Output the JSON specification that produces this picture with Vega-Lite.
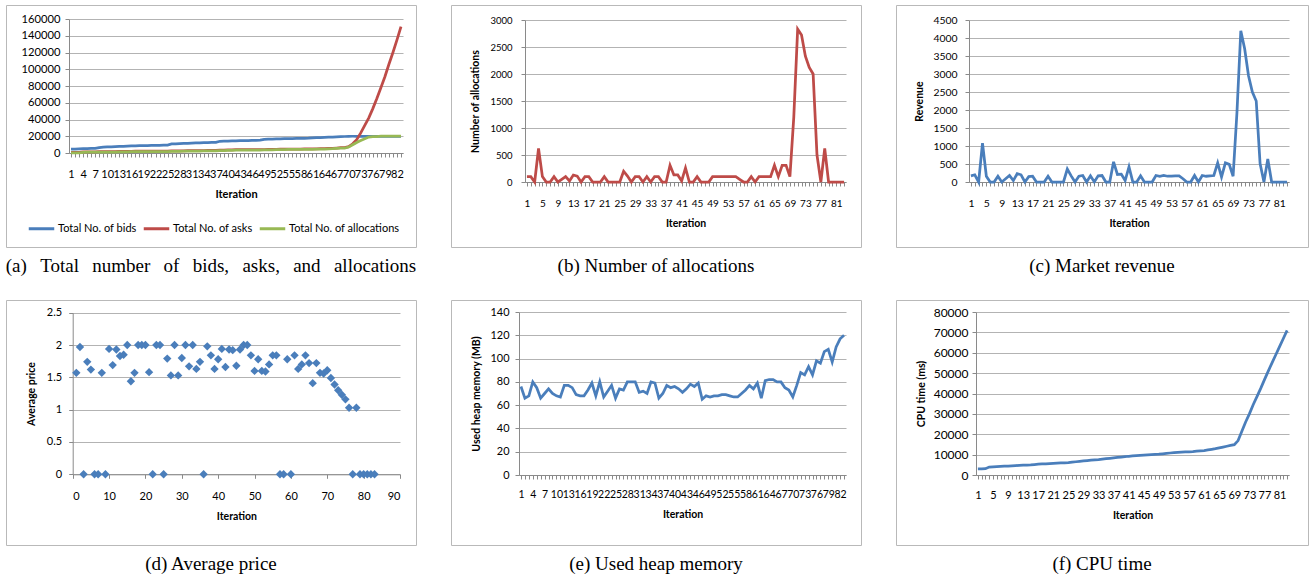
{
  "$schema": "https://vega.github.io/schema/vega-lite/v6.json",
  "autosize": {"type": "pad"},
  "padding": {"left": 5, "top": 4, "right": 2, "bottom": 2},
  "background": "white",
  "columns": 3,
  "spacing": {"row": 53, "column": 35},
  "bounds": "flush",
  "datasets": {
    "main": [
      {"i":1,"alloc":100,"rev":170,"price":1.57,"heap":76,"cpu":2950,"bids":4500,"asks":600,"acum":100},
      {"i":2,"alloc":100,"rev":200,"price":1.97,"heap":66,"cpu":3000,"bids":4700,"asks":700,"acum":200},
      {"i":3,"alloc":0,"rev":0,"price":0,"heap":68,"cpu":3100,"bids":4900,"asks":700,"acum":200},
      {"i":4,"alloc":620,"rev":1080,"price":1.74,"heap":80,"cpu":3900,"bids":5200,"asks":1320,"acum":820},
      {"i":5,"alloc":100,"rev":160,"price":1.62,"heap":75,"cpu":4000,"bids":5300,"asks":1420,"acum":920},
      {"i":6,"alloc":0,"rev":0,"price":0,"heap":66,"cpu":4100,"bids":5400,"asks":1420,"acum":920},
      {"i":7,"alloc":0,"rev":0,"price":0,"heap":70,"cpu":4200,"bids":5600,"asks":1420,"acum":920},
      {"i":8,"alloc":100,"rev":160,"price":1.57,"heap":74,"cpu":4300,"bids":6500,"asks":1520,"acum":1020},
      {"i":9,"alloc":0,"rev":0,"price":0,"heap":70,"cpu":4400,"bids":7000,"asks":1520,"acum":1020},
      {"i":10,"alloc":50,"rev":90,"price":1.94,"heap":68,"cpu":4500,"bids":7200,"asks":1570,"acum":1070},
      {"i":11,"alloc":100,"rev":180,"price":1.69,"heap":67,"cpu":4600,"bids":7400,"asks":1670,"acum":1170},
      {"i":12,"alloc":20,"rev":40,"price":1.93,"heap":77,"cpu":4700,"bids":7600,"asks":1690,"acum":1190},
      {"i":13,"alloc":130,"rev":230,"price":1.83,"heap":77,"cpu":4800,"bids":7800,"asks":1820,"acum":1320},
      {"i":14,"alloc":110,"rev":200,"price":1.85,"heap":75,"cpu":4900,"bids":8000,"asks":1930,"acum":1430},
      {"i":15,"alloc":0,"rev":0,"price":2.0,"heap":69,"cpu":5000,"bids":8200,"asks":1930,"acum":1430},
      {"i":16,"alloc":100,"rev":150,"price":1.44,"heap":68,"cpu":5150,"bids":8400,"asks":2030,"acum":1530},
      {"i":17,"alloc":100,"rev":160,"price":1.57,"heap":68,"cpu":5300,"bids":8600,"asks":2130,"acum":1630},
      {"i":18,"alloc":0,"rev":0,"price":2.0,"heap":73,"cpu":5400,"bids":8700,"asks":2130,"acum":1630},
      {"i":19,"alloc":0,"rev":0,"price":2.0,"heap":79,"cpu":5500,"bids":8800,"asks":2130,"acum":1630},
      {"i":20,"alloc":0,"rev":0,"price":2.0,"heap":68,"cpu":5600,"bids":8900,"asks":2130,"acum":1630},
      {"i":21,"alloc":100,"rev":160,"price":1.58,"heap":80,"cpu":5700,"bids":9000,"asks":2230,"acum":1730},
      {"i":22,"alloc":0,"rev":0,"price":0,"heap":67,"cpu":5800,"bids":9100,"asks":2230,"acum":1730},
      {"i":23,"alloc":0,"rev":0,"price":2.0,"heap":72,"cpu":5900,"bids":9200,"asks":2230,"acum":1730},
      {"i":24,"alloc":0,"rev":0,"price":2.0,"heap":77,"cpu":6000,"bids":9300,"asks":2230,"acum":1730},
      {"i":25,"alloc":0,"rev":0,"price":0,"heap":66,"cpu":6050,"bids":9500,"asks":2230,"acum":1730},
      {"i":26,"alloc":200,"rev":360,"price":1.79,"heap":74,"cpu":6300,"bids":10800,"asks":2430,"acum":1930},
      {"i":27,"alloc":110,"rev":170,"price":1.53,"heap":73,"cpu":6500,"bids":11000,"asks":2540,"acum":2040},
      {"i":28,"alloc":0,"rev":0,"price":2.0,"heap":80,"cpu":6700,"bids":11200,"asks":2540,"acum":2040},
      {"i":29,"alloc":100,"rev":160,"price":1.53,"heap":80,"cpu":6900,"bids":11400,"asks":2640,"acum":2140},
      {"i":30,"alloc":100,"rev":180,"price":1.8,"heap":80,"cpu":7100,"bids":11600,"asks":2740,"acum":2240},
      {"i":31,"alloc":0,"rev":0,"price":2.0,"heap":71,"cpu":7300,"bids":11800,"asks":2740,"acum":2240},
      {"i":32,"alloc":100,"rev":170,"price":1.67,"heap":72,"cpu":7450,"bids":12000,"asks":2840,"acum":2340},
      {"i":33,"alloc":0,"rev":0,"price":2.0,"heap":70,"cpu":7600,"bids":12200,"asks":2840,"acum":2340},
      {"i":34,"alloc":100,"rev":170,"price":1.63,"heap":80,"cpu":7800,"bids":12400,"asks":2940,"acum":2440},
      {"i":35,"alloc":100,"rev":180,"price":1.74,"heap":79,"cpu":8000,"bids":12500,"asks":3040,"acum":2540},
      {"i":36,"alloc":0,"rev":0,"price":0,"heap":66,"cpu":8200,"bids":12600,"asks":3040,"acum":2540},
      {"i":37,"alloc":0,"rev":0,"price":1.98,"heap":70,"cpu":8400,"bids":12700,"asks":3040,"acum":2540},
      {"i":38,"alloc":310,"rev":560,"price":1.84,"heap":77,"cpu":8600,"bids":14000,"asks":3350,"acum":2850},
      {"i":39,"alloc":130,"rev":210,"price":1.63,"heap":75,"cpu":8800,"bids":14200,"asks":3480,"acum":2980},
      {"i":40,"alloc":130,"rev":220,"price":1.78,"heap":76,"cpu":9000,"bids":14300,"asks":3610,"acum":3110},
      {"i":41,"alloc":20,"rev":40,"price":1.94,"heap":74,"cpu":9200,"bids":14400,"asks":3630,"acum":3130},
      {"i":42,"alloc":260,"rev":420,"price":1.66,"heap":71,"cpu":9350,"bids":14600,"asks":3890,"acum":3390},
      {"i":43,"alloc":0,"rev":0,"price":1.93,"heap":74,"cpu":9500,"bids":14700,"asks":3890,"acum":3390},
      {"i":44,"alloc":0,"rev":0,"price":1.92,"heap":78,"cpu":9650,"bids":14800,"asks":3890,"acum":3390},
      {"i":45,"alloc":100,"rev":170,"price":1.68,"heap":76,"cpu":9800,"bids":14900,"asks":3990,"acum":3490},
      {"i":46,"alloc":0,"rev":0,"price":1.93,"heap":79,"cpu":9900,"bids":15000,"asks":3990,"acum":3490},
      {"i":47,"alloc":0,"rev":0,"price":2.0,"heap":65,"cpu":10000,"bids":15200,"asks":3990,"acum":3490},
      {"i":48,"alloc":0,"rev":0,"price":2.0,"heap":68,"cpu":10100,"bids":15400,"asks":3990,"acum":3490},
      {"i":49,"alloc":100,"rev":180,"price":1.84,"heap":67,"cpu":10200,"bids":16200,"asks":4090,"acum":3590},
      {"i":50,"alloc":100,"rev":160,"price":1.6,"heap":68,"cpu":10400,"bids":16500,"asks":4190,"acum":3690},
      {"i":51,"alloc":100,"rev":180,"price":1.78,"heap":68,"cpu":10600,"bids":16700,"asks":4290,"acum":3790},
      {"i":52,"alloc":100,"rev":160,"price":1.6,"heap":69,"cpu":10800,"bids":16900,"asks":4390,"acum":3890},
      {"i":53,"alloc":100,"rev":160,"price":1.59,"heap":69,"cpu":10950,"bids":17000,"asks":4490,"acum":3990},
      {"i":54,"alloc":100,"rev":170,"price":1.7,"heap":68,"cpu":11100,"bids":17100,"asks":4590,"acum":4090},
      {"i":55,"alloc":100,"rev":170,"price":1.84,"heap":67,"cpu":11200,"bids":17200,"asks":4690,"acum":4190},
      {"i":56,"alloc":50,"rev":90,"price":1.84,"heap":67,"cpu":11300,"bids":17300,"asks":4740,"acum":4240},
      {"i":57,"alloc":0,"rev":0,"price":0,"heap":70,"cpu":11400,"bids":17400,"asks":4740,"acum":4240},
      {"i":58,"alloc":0,"rev":0,"price":0,"heap":73,"cpu":11500,"bids":17500,"asks":4740,"acum":4240},
      {"i":59,"alloc":100,"rev":180,"price":1.78,"heap":77,"cpu":11700,"bids":17600,"asks":4840,"acum":4340},
      {"i":60,"alloc":0,"rev":0,"price":0,"heap":74,"cpu":11850,"bids":17700,"asks":4840,"acum":4340},
      {"i":61,"alloc":100,"rev":180,"price":1.84,"heap":79,"cpu":12000,"bids":18100,"asks":4940,"acum":4440},
      {"i":62,"alloc":100,"rev":160,"price":1.63,"heap":66,"cpu":12300,"bids":18300,"asks":5040,"acum":4540},
      {"i":63,"alloc":100,"rev":170,"price":1.7,"heap":81,"cpu":12600,"bids":18500,"asks":5140,"acum":4640},
      {"i":64,"alloc":100,"rev":180,"price":1.84,"heap":82,"cpu":12900,"bids":18700,"asks":5240,"acum":4740},
      {"i":65,"alloc":310,"rev":530,"price":1.72,"heap":82,"cpu":13300,"bids":18900,"asks":5550,"acum":5050},
      {"i":66,"alloc":100,"rev":140,"price":1.41,"heap":80,"cpu":13700,"bids":19100,"asks":5650,"acum":5150},
      {"i":67,"alloc":310,"rev":530,"price":1.72,"heap":80,"cpu":14100,"bids":19300,"asks":5960,"acum":5460},
      {"i":68,"alloc":310,"rev":490,"price":1.57,"heap":75,"cpu":14500,"bids":19500,"asks":6270,"acum":5770},
      {"i":69,"alloc":100,"rev":160,"price":1.56,"heap":73,"cpu":14900,"bids":19700,"asks":6370,"acum":5870},
      {"i":70,"alloc":1200,"rev":1930,"price":1.61,"heap":67,"cpu":16900,"bids":19900,"asks":7600,"acum":7070},
      {"i":71,"alloc":2830,"rev":4200,"price":1.49,"heap":77,"cpu":21500,"bids":20000,"asks":11000,"acum":9900},
      {"i":72,"alloc":2720,"rev":3700,"price":1.39,"heap":88,"cpu":26000,"bids":20000,"asks":16000,"acum":12620},
      {"i":73,"alloc":2330,"rev":2950,"price":1.3,"heap":86,"cpu":30000,"bids":20000,"asks":24000,"acum":14950},
      {"i":74,"alloc":2120,"rev":2500,"price":1.23,"heap":93,"cpu":34500,"bids":20000,"asks":33000,"acum":17070},
      {"i":75,"alloc":2000,"rev":2250,"price":1.16,"heap":86,"cpu":38500,"bids":20000,"asks":42000,"acum":19070},
      {"i":76,"alloc":500,"rev":510,"price":1.03,"heap":98,"cpu":42500,"bids":20000,"asks":53000,"acum":19570},
      {"i":77,"alloc":0,"rev":0,"price":0,"heap":96,"cpu":46800,"bids":20000,"asks":65000,"acum":19570},
      {"i":78,"alloc":620,"rev":640,"price":1.03,"heap":106,"cpu":51000,"bids":20000,"asks":78000,"acum":20190},
      {"i":79,"alloc":0,"rev":0,"price":0,"heap":108,"cpu":55000,"bids":20000,"asks":91000,"acum":20190},
      {"i":80,"alloc":0,"rev":0,"price":0,"heap":97,"cpu":59000,"bids":20000,"asks":106000,"acum":20190},
      {"i":81,"alloc":0,"rev":0,"price":0,"heap":110,"cpu":63000,"bids":20000,"asks":120000,"acum":20190},
      {"i":82,"alloc":0,"rev":0,"price":0,"heap":117,"cpu":67000,"bids":20000,"asks":135000,"acum":20190},
      {"i":83,"alloc":0,"rev":0,"price":0,"heap":120,"cpu":71000,"bids":20000,"asks":151000,"acum":20190}
    ]
  },
  "config": {
    "font": "Lato",
    "view": {"stroke": "#b9b9b9", "strokeWidth": 1},
    "axis": {"domainColor": "#8a8a8a", "tickColor": "#8a8a8a", "gridColor": "#b3b3b3", "gridWidth": 1, "labelColor": "#000000", "titleColor": "#000000", "labelFont": "Lato", "titleFont": "Lato", "titleFontWeight": "bold", "tickSize": 4, "titleFontSize": 10.5},
    "axisX": {"grid": false},
    "title": {"font": "Liberation Serif", "fontWeight": "normal", "fontSize": 19, "color": "#000000", "orient": "bottom", "anchor": "middle", "offset": 10},
    "legend": {"labelFont": "Lato", "labelColor": "#000000"}
  },
  "concat": [
    {
      "width": 410, "height": 242,
      "title": {"text": "(a)\u2002\u2009Total\u2002\u2009number\u2002\u2009of\u2002\u2009bids,\u2002\u2009asks,\u2002\u2009and\u2002\u2009allocations"},
      "data": {"name": "main"},
      "encoding": {
        "x": {"field": "i", "type": "quantitative",
          "scale": {"domain": [0.5, 83.5], "range": [63, 397], "nice": false, "zero": false},
          "axis": {"title": "Iteration", "offset": -94, "values": [1,2,3,4,5,6,7,8,9,10,11,12,13,14,15,16,17,18,19,20,21,22,23,24,25,26,27,28,29,30,31,32,33,34,35,36,37,38,39,40,41,42,43,44,45,46,47,48,49,50,51,52,53,54,55,56,57,58,59,60,61,62,63,64,65,66,67,68,69,70,71,72,73,74,75,76,77,78,79,80,81,82,83],
            "labelExpr": "(datum.value - 1) % 3 === 0 ? datum.label : ''", "labelOverlap": false, "labelFontSize": 11, "labelPadding": 11, "titleFontSize": 11, "titlePadding": 9}}
      },
      "layer": [
        {
          "mark": {"type": "line", "strokeWidth": 2.75},
          "encoding": {
            "y": {"field": "bids", "type": "quantitative",
              "scale": {"domain": [0, 160000], "range": [148, 14], "nice": false},
              "axis": {"title": null, "offset": -63, "values": [0,20000,40000,60000,80000,100000,120000,140000,160000], "format": "d", "labelFontSize": 11.2, "labelPadding": 5}},
            "color": {"datum": "Total No. of bids", "type": "nominal",
              "scale": {"domain": ["Total No. of bids", "Total No. of asks", "Total No. of allocations"], "range": ["#4A7EBB", "#BE4B48", "#98B954"]},
              "legend": {"orient": "none", "legendX": 21, "legendY": 209, "direction": "horizontal", "title": null, "symbolType": "stroke", "symbolSize": 650, "symbolStrokeWidth": 3, "labelFontSize": 11, "labelOffset": 2, "columnPadding": 0}}
          }
        },
        {
          "mark": {"type": "line", "strokeWidth": 2.75},
          "encoding": {
            "y": {"field": "asks", "type": "quantitative",
              "axis": {"title": null, "offset": -63, "values": [0,20000,40000,60000,80000,100000,120000,140000,160000], "format": "d", "labelFontSize": 11.2, "labelPadding": 5}},
            "color": {"datum": "Total No. of asks", "type": "nominal"}
          }
        },
        {
          "mark": {"type": "line", "strokeWidth": 2.75},
          "encoding": {
            "y": {"field": "acum", "type": "quantitative",
              "axis": {"title": null, "offset": -63, "values": [0,20000,40000,60000,80000,100000,120000,140000,160000], "format": "d", "labelFontSize": 11.2, "labelPadding": 5}},
            "color": {"datum": "Total No. of allocations", "type": "nominal"}
          }
        }
      ]
    },
    {
      "width": 410, "height": 242,
      "title": {"text": "(b) Number of allocations"},
      "data": {"name": "main"},
      "mark": {"type": "line", "color": "#BE4B48", "strokeWidth": 2.75},
      "encoding": {
        "x": {"field": "i", "type": "quantitative",
          "scale": {"domain": [0.5, 83.5], "range": [74, 395], "nice": false, "zero": false},
          "axis": {"title": "Iteration", "offset": -65, "values": [1,2,3,4,5,6,7,8,9,10,11,12,13,14,15,16,17,18,19,20,21,22,23,24,25,26,27,28,29,30,31,32,33,34,35,36,37,38,39,40,41,42,43,44,45,46,47,48,49,50,51,52,53,54,55,56,57,58,59,60,61,62,63,64,65,66,67,68,69,70,71,72,73,74,75,76,77,78,79,80,81,82,83],
            "labelExpr": "(datum.value - 1) % 4 === 0 ? datum.label : ''", "labelOverlap": false, "labelFontSize": 10, "labelPadding": 12, "titlePadding": 10}},
        "y": {"field": "alloc", "type": "quantitative",
          "scale": {"domain": [0, 3000], "range": [177, 15], "nice": false},
          "axis": {"title": "Number of allocations", "offset": -74, "values": [0,500,1000,1500,2000,2500,3000], "format": "d", "labelFontSize": 9.5, "labelPadding": 9, "titlePadding": 9}}
      }
    },
    {
      "width": 412, "height": 242,
      "title": {"text": "(c) Market revenue"},
      "data": {"name": "main"},
      "mark": {"type": "line", "color": "#4A7EBB", "strokeWidth": 2.75},
      "encoding": {
        "x": {"field": "i", "type": "quantitative",
          "scale": {"domain": [0.5, 83.5], "range": [73, 393], "nice": false, "zero": false},
          "axis": {"title": "Iteration", "offset": -65, "values": [1,2,3,4,5,6,7,8,9,10,11,12,13,14,15,16,17,18,19,20,21,22,23,24,25,26,27,28,29,30,31,32,33,34,35,36,37,38,39,40,41,42,43,44,45,46,47,48,49,50,51,52,53,54,55,56,57,58,59,60,61,62,63,64,65,66,67,68,69,70,71,72,73,74,75,76,77,78,79,80,81,82,83],
            "labelExpr": "(datum.value - 1) % 4 === 0 ? datum.label : ''", "labelOverlap": false, "labelFontSize": 10.4, "labelPadding": 12, "titlePadding": 10}},
        "y": {"field": "rev", "type": "quantitative",
          "scale": {"domain": [0, 4500], "range": [177, 15], "nice": false},
          "axis": {"title": "Revenue", "offset": -73, "values": [0,500,1000,1500,2000,2500,3000,3500,4000,4500], "format": "d", "labelFontSize": 10.4, "labelPadding": 8, "titlePadding": 8}}
      }
    },
    {
      "width": 410, "height": 245,
      "title": {"text": "(d) Average price"},
      "data": {"name": "main"},
      "mark": {"type": "point", "shape": "diamond", "filled": true, "size": 70, "color": "#4A7EBB", "opacity": 1},
      "encoding": {
        "x": {"field": "i", "type": "quantitative",
          "scale": {"domain": [0, 90], "range": [66.7, 394], "nice": false, "zero": false},
          "axis": {"title": "Iteration", "offset": -70.7, "values": [0,10,20,30,40,50,60,70,80,90], "labelFontSize": 11, "labelPadding": 12, "titlePadding": 10}},
        "y": {"field": "price", "type": "quantitative",
          "scale": {"domain": [0, 2.5], "range": [174.3, 12.7], "nice": false},
          "axis": {"title": "Average price", "offset": -66.7, "values": [0,0.5,1,1.5,2,2.5], "format": "~g", "labelFontSize": 11, "labelPadding": 7, "titlePadding": 10}}
      }
    },
    {
      "width": 410, "height": 245,
      "title": {"text": "(e) Used heap memory"},
      "data": {"name": "main"},
      "mark": {"type": "line", "color": "#4A7EBB", "strokeWidth": 2.75},
      "encoding": {
        "x": {"field": "i", "type": "quantitative",
          "scale": {"domain": [0.5, 83.5], "range": [68, 395], "nice": false, "zero": false},
          "axis": {"title": "Iteration", "offset": -70, "values": [1,2,3,4,5,6,7,8,9,10,11,12,13,14,15,16,17,18,19,20,21,22,23,24,25,26,27,28,29,30,31,32,33,34,35,36,37,38,39,40,41,42,43,44,45,46,47,48,49,50,51,52,53,54,55,56,57,58,59,60,61,62,63,64,65,66,67,68,69,70,71,72,73,74,75,76,77,78,79,80,81,82,83],
            "labelExpr": "(datum.value - 1) % 3 === 0 ? datum.label : ''", "labelOverlap": false, "labelFontSize": 10.5, "labelPadding": 10, "titlePadding": 10}},
        "y": {"field": "heap", "type": "quantitative",
          "scale": {"domain": [0, 140], "range": [175, 12], "nice": false},
          "axis": {"title": "Used heap memory (MB)", "offset": -68, "values": [0,20,40,60,80,100,120,140], "format": "d", "labelFontSize": 10.9, "labelPadding": 6, "titlePadding": 9}}
      }
    },
    {
      "width": 412, "height": 245,
      "title": {"text": "(f) CPU time"},
      "data": {"name": "main"},
      "mark": {"type": "line", "color": "#4A7EBB", "strokeWidth": 2.75},
      "encoding": {
        "x": {"field": "i", "type": "quantitative",
          "scale": {"domain": [0.5, 83.5], "range": [80, 393], "nice": false, "zero": false},
          "axis": {"title": "Iteration", "offset": -70, "values": [1,2,3,4,5,6,7,8,9,10,11,12,13,14,15,16,17,18,19,20,21,22,23,24,25,26,27,28,29,30,31,32,33,34,35,36,37,38,39,40,41,42,43,44,45,46,47,48,49,50,51,52,53,54,55,56,57,58,59,60,61,62,63,64,65,66,67,68,69,70,71,72,73,74,75,76,77,78,79,80,81,82,83],
            "labelExpr": "(datum.value - 1) % 4 === 0 ? datum.label : ''", "labelOverlap": false, "labelFontSize": 11, "labelPadding": 10, "titlePadding": 10}},
        "y": {"field": "cpu", "type": "quantitative",
          "scale": {"domain": [0, 80000], "range": [175, 12], "nice": false},
          "axis": {"title": "CPU time (ms)", "offset": -80, "values": [0,10000,20000,30000,40000,50000,60000,70000,80000], "format": "d", "labelFontSize": 12, "labelPadding": 4, "titlePadding": 7}}
      }
    }
  ]
}
